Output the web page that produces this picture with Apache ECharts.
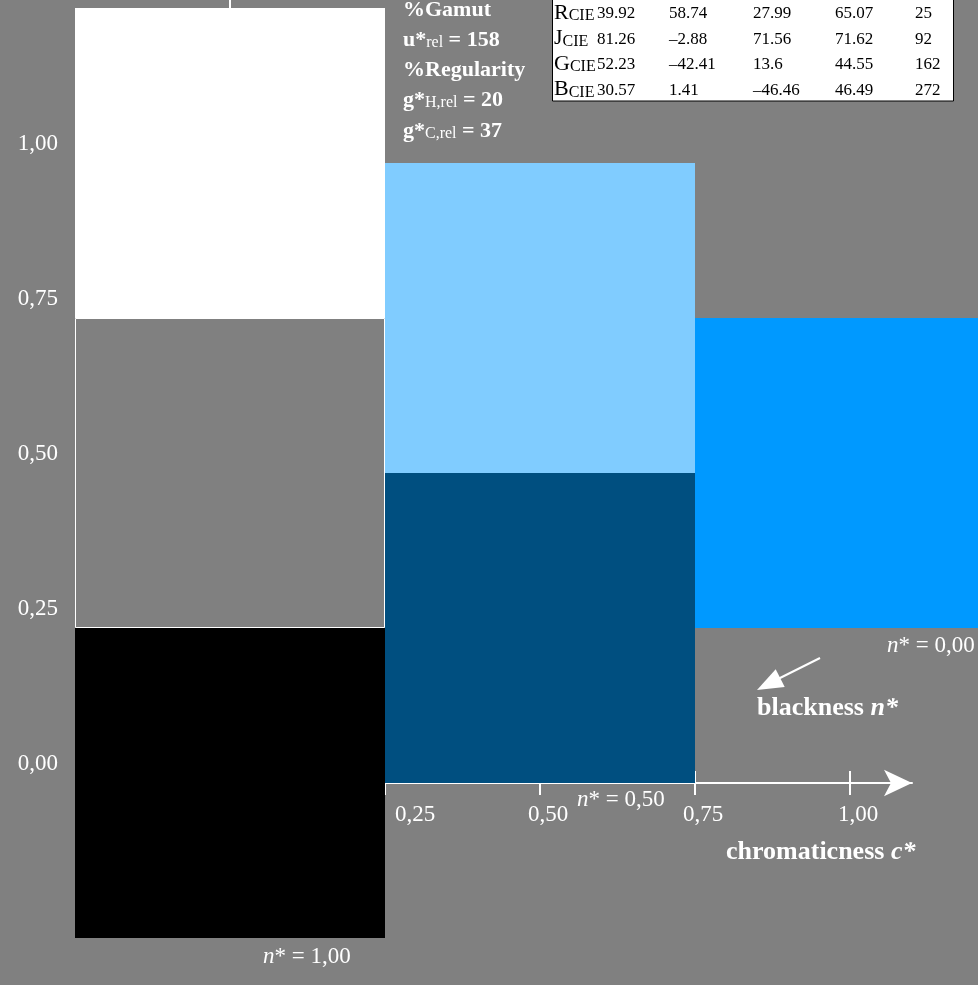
<!DOCTYPE html>
<html>
<head>
    <meta charset="utf-8">
    <title>blackness / chromaticness</title>
    <script src="https://cdn.jsdelivr.net/npm/echarts@6/dist/echarts.min.js"></script>
    <style>
        html, body { margin: 0; padding: 0; background: #808080; }
        #main { width: 978px; height: 985px; }
    </style>
</head>
<body>
<div id="main"></div>
<script type="text/javascript">
// colour fields: centre in chromaticness c* and in the vertical (1 - n*) scale
var sampleNames = ['W', 'N', 'S', 'C50', 'C50S', 'C100'];
var sampleC = [0, 0, 0, 0.5, 0.5, 1.0];
var sampleT = [1.0, 0.5, 0.0, 0.75, 0.25, 0.5];
var sampleColors = ['#ffffff', '#808080', '#000000', '#80ccff', '#004f80', '#0099ff'];
var fieldSize = 0.5;

var xTickValues = [0.25, 0.5, 0.75, 1.0];
var yTickValues = [0, 0.25, 0.5, 0.75, 1.0];

// CIELAB table (top right)
var tableRows = ['R', 'J', 'G', 'B'];
var tableL = ['39.92', '81.26', '52.23', '30.57'];
var tableA = ['58.74', '\u20132.88', '\u201342.41', '1.41'];
var tableB = ['27.99', '71.56', '13.6', '\u201346.46'];
var tableC = ['65.07', '71.62', '44.55', '46.49'];
var tableH = ['25', '92', '162', '272'];

var gamutRel = 158;
var regHRel = 20;
var regCRel = 37;

var bgColor = '#808080';
var serif = 'Liberation Serif';

// layout: 620px per unit, origin of the axes at (230, 783)
var unitPx = 620, originX = 230, originY = 783;
var xMin = -0.24, xMax = 1.1, yMin = -0.24, yMax = 1.35;

var chart = echarts.init(document.getElementById('main'));

function fmt(v) {
    return v.toFixed(2).replace('.', ',');
}

var sampleData = [];
for (var i = 0; i < sampleNames.length; i++) {
    sampleData.push([sampleC[i], sampleT[i], sampleNames[i]]);
}

// table elements
var tableEls = [{
    type: 'rect',
    shape: {x: 552.5, y: -40, width: 401, height: 141},
    style: {fill: '#ffffff', stroke: '#000000', lineWidth: 1}
}];
var colX = [597, 669, 753, 835, 915];
for (var r = 0; r < tableRows.length; r++) {
    var cy = 13 + r * 25.5;
    tableEls.push({
        type: 'text', x: 554, y: cy,
        style: {
            text: '{l|' + tableRows[r] + '}{s|CIE}',
            textVerticalAlign: 'middle',
            rich: {
                l: {fontFamily: serif, fontSize: 22, fill: '#000'},
                s: {fontFamily: serif, fontSize: 16, fill: '#000', verticalAlign: 'bottom'}
            }
        }
    });
    var vals = [tableL[r], tableA[r], tableB[r], tableC[r], tableH[r]];
    for (var k = 0; k < vals.length; k++) {
        tableEls.push({
            type: 'text', x: colX[k], y: cy + 1,
            style: {text: vals[k], font: '17px ' + serif, fill: '#000', textVerticalAlign: 'middle'}
        });
    }
}

var white = '#ffffff';
var richTop = {
    b: {fontFamily: serif, fontSize: 22, fontWeight: 'bold', fill: white},
    s: {fontFamily: serif, fontSize: 16, fill: white, verticalAlign: 'bottom'}
};
var richN = {
    i: {fontFamily: serif, fontSize: 23, fontStyle: 'italic', fill: white},
    r: {fontFamily: serif, fontSize: 23, fill: white}
};
var richBold = {
    b: {fontFamily: serif, fontSize: 26, fontWeight: 'bold', fill: white},
    bi: {fontFamily: serif, fontSize: 26, fontWeight: 'bold', fontStyle: 'italic', fill: white}
};

function txt(x, y, text, rich) {
    return {type: 'text', x: x, y: y, z: 100,
        style: {text: text, rich: rich, textVerticalAlign: 'middle'}};
}

var notes = [
    txt(403, 10, '{b|%Gamut}', richTop),
    txt(403, 40, '{b|u*}{s|rel}{b| = ' + gamutRel + '}', richTop),
    txt(403, 70, '{b|%Regularity}', richTop),
    txt(403, 100, '{b|g*}{s|H,rel}{b| = ' + regHRel + '}', richTop),
    txt(403, 131, '{b|g*}{s|C,rel}{b| = ' + regCRel + '}', richTop),
    txt(263, 957, '{i|n}{r|* = 1,00}', richN),
    txt(577, 800, '{i|n}{r|* = 0,50}', richN),
    txt(887, 646, '{i|n}{r|* = 0,00}', richN),
    txt(757, 708, '{b|blackness }{bi|n*}', richBold),
    txt(726, 852, '{b|chromaticness }{bi|c*}', richBold),
    {
        type: 'line', z: 100,
        shape: {x1: 820, y1: 658, x2: 776, y2: 680},
        style: {stroke: white, lineWidth: 2}
    },
    {
        type: 'polygon', z: 100,
        shape: {points: [[757, 690], [775.7, 669.3], [784.7, 687.1]]},
        style: {fill: white}
    }
];

// in this ECharts build the labels stay on the grid edge, so margins are measured from there
var gridBottomPx = originY - yMin * unitPx;
var gridLeftPx = originX + xMin * unitPx;

var option = {
    backgroundColor: bgColor,
    animation: false,
    grid: {
        left: gridLeftPx,
        top: originY - yMax * unitPx,
        width: (xMax - xMin) * unitPx,
        height: (yMax - yMin) * unitPx,
        containLabel: false,
        outerBoundsMode: 'none'
    },
    xAxis: [{
        type: 'value', min: xMin, max: xMax,
        axisLine: {onZero: true, onZeroAxisIndex: 0, symbol: ['none', 'arrow'], symbolSize: [20, 28],
            lineStyle: {color: white, width: 2}},
        axisTick: {show: true, length: 12, customValues: xTickValues, lineStyle: {color: white, width: 2}},
        axisLabel: {
            show: true, margin: 20 - (gridBottomPx - originY), customValues: xTickValues,
            formatter: function (v) {
                return v === 0.25 ? '{far|' + fmt(v) + '}' : '{n|' + fmt(v) + '}';
            },
            rich: {
                n: {fontFamily: serif, fontSize: 23, color: white, padding: [0, 0, 0, 16]},
                far: {fontFamily: serif, fontSize: 23, color: white, padding: [0, 0, 0, 60]}
            }
        },
        splitLine: {show: false}
    }, {
        type: 'value', min: xMin, max: xMax, position: 'bottom',
        axisLine: {show: false, onZero: true, onZeroAxisIndex: 0},
        axisTick: {show: true, inside: true, length: 12, customValues: xTickValues, lineStyle: {color: white, width: 2}},
        axisLabel: {show: false},
        splitLine: {show: false}
    }],
    yAxis: {
        type: 'value', min: yMin, max: yMax,
        axisLine: {onZero: true, onZeroAxisIndex: 0, symbol: ['none', 'arrow'], symbolSize: [20, 28],
            lineStyle: {color: white, width: 2}},
        axisTick: {show: false},
        axisLabel: {
            show: true, margin: 172 - (originX - gridLeftPx), customValues: yTickValues,
            formatter: function (v) {
                return '{v|' + fmt(v) + '}';
            },
            rich: {
                v: {fontFamily: serif, fontSize: 23, color: white, padding: [0, 0, 39, 0]}
            }
        },
        splitLine: {show: false}
    },
    graphic: tableEls.concat(notes),
    series: [{
        type: 'custom',
        clip: false,
        data: sampleData,
        z: 5,
        renderItem: function (params, api) {
            var c = api.value(0), t = api.value(1);
            var tl = api.coord([c - fieldSize / 2, t + fieldSize / 2]);
            var br = api.coord([c + fieldSize / 2, t - fieldSize / 2]);
            var fill = sampleColors[params.dataIndex];
            var outlined = fill === bgColor;
            var d = outlined ? 0.5 : 0;
            return {
                type: 'rect',
                shape: {x: tl[0] + d, y: tl[1] + d, width: br[0] - tl[0] - 2 * d, height: br[1] - tl[1] - 2 * d},
                style: {fill: fill, stroke: outlined ? white : null, lineWidth: 1}
            };
        }
    }]
};

chart.setOption(option);
</script>
</body>
</html>
